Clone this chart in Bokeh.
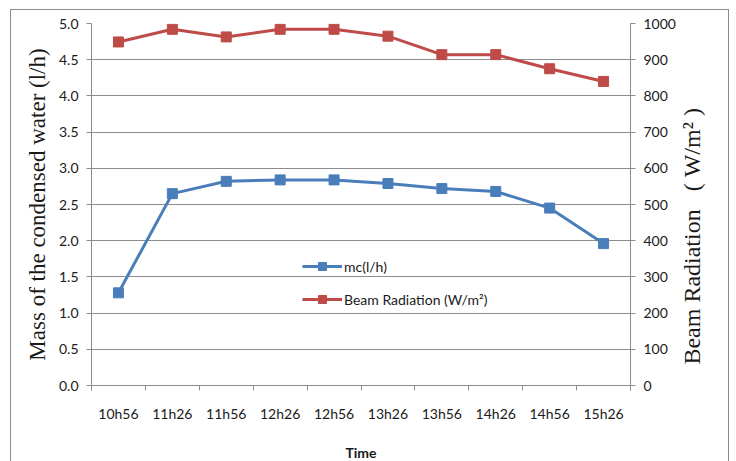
import math
from bokeh.plotting import figure
from bokeh.models import Range1d, LinearAxis, FixedTicker, Legend, LegendItem, ColumnDataSource, Label
from bokeh.embed import file_html
from bokeh.resources import INLINE

times = ["10h56", "11h26", "11h56", "12h26", "12h56", "13h26", "13h56", "14h26", "14h56", "15h26"]
mc = [1.28, 2.65, 2.82, 2.84, 2.84, 2.79, 2.72, 2.68, 2.45, 1.96]
beam = [949, 984, 963, 984, 984, 965, 914, 914, 875, 840]
left_ticks = [0.0, 0.5, 1.0, 1.5, 2.0, 2.5, 3.0, 3.5, 4.0, 4.5, 5.0]
right_ticks = [0, 100, 200, 300, 400, 500, 600, 700, 800, 900, 1000]

BLUE = "#4a7ebb"
RED = "#be4b48"
GRID = "#8c8c8c"
TXT = "#1a1a1a"
NB = "\u00a0"

xs = [i + 0.5 for i in range(len(times))]
src = ColumnDataSource(dict(x=xs, mc=mc, beam=beam))

p = figure(width=719, height=453, output_backend="svg", toolbar_location=None,
           x_range=Range1d(0, len(times)), y_range=Range1d(0, 5),
           min_border_left=80, min_border_right=100, min_border_top=13, min_border_bottom=77)
p.styles = {"border-left": "1px solid #8c8c8c", "border-top": "1px solid #8c8c8c",
            "border-right": "1px solid #8c8c8c", "margin-left": "10px", "margin-top": "9px"}
p.outline_line_color = None
p.background_fill_color = "white"
p.border_fill_color = "white"

p.extra_y_ranges = {"beam": Range1d(0, 1000)}

# x axis: labels at centers, ticks at boundaries
xax = p.xaxis[0]
xax.ticker = FixedTicker(ticks=xs, minor_ticks=list(range(len(times) + 1)))
xax.major_label_overrides = {x: t for x, t in zip(xs, times)}
xax.major_tick_out = 0
xax.major_tick_in = 0
xax.minor_tick_out = 5
xax.minor_tick_in = 0
xax.minor_tick_line_color = GRID
xax.axis_line_color = GRID
xax.major_label_text_font = "Lato"
xax.major_label_text_font_size = "14px"
xax.major_label_text_color = TXT
xax.major_label_standoff = 14
xax.axis_label = "Time"
xax.axis_label_text_font = "Lato"
xax.axis_label_text_font_style = "bold"
xax.axis_label_text_font_size = "14px"
xax.axis_label_text_color = TXT
xax.axis_label_standoff = 19

yax = p.yaxis[0]
yax.ticker = FixedTicker(ticks=left_ticks)
yax.major_label_overrides = {v: f"{v:.1f}" for v in left_ticks}
yax.minor_tick_line_color = None
yax.major_tick_out = 5
yax.major_tick_in = 0
yax.major_tick_line_color = GRID
yax.axis_line_color = GRID
yax.major_label_text_font = "Lato"
yax.major_label_text_font_size = "14px"
yax.major_label_text_color = TXT
yax.major_label_standoff = 8
yax.axis_label = "Mass of the condensed water (l/h)"
yax.axis_label_text_font = "Liberation Serif"
yax.axis_label_text_font_style = "normal"
yax.axis_label_text_font_size = "23px"
yax.axis_label_text_color = TXT
yax.axis_label_standoff = 6

rax = LinearAxis(y_range_name="beam", ticker=FixedTicker(ticks=right_ticks))
rax.minor_tick_line_color = None
rax.major_tick_out = 5
rax.major_tick_in = 0
rax.major_tick_line_color = GRID
rax.axis_line_color = GRID
rax.major_label_text_font = "Lato"
rax.major_label_text_font_size = "14px"
rax.major_label_text_color = TXT
rax.major_label_standoff = 8
p.add_layout(rax, "right")

# right-axis title, reading bottom to top, placed in the right side panel (not clipped)
rtitle = Label(x=len(times) + 1.15, y=2.06, text="Beam Radiation" + NB * 3 + "(" + NB + "W/m²" + NB + ")",
               angle=math.pi / 2, text_align="center", text_baseline="middle",
               text_font="Liberation Serif", text_font_size="24px", text_color=TXT)
p.add_layout(rtitle, "right")

p.xgrid.grid_line_color = None
p.ygrid.ticker = FixedTicker(ticks=left_ticks)
p.ygrid.grid_line_color = GRID
p.ygrid.grid_line_width = 1

l1 = p.line("x", "mc", source=src, line_color=BLUE, line_width=3)
s1 = p.scatter("x", "mc", source=src, marker="square", size=10, fill_color=BLUE, line_color=BLUE)
l2 = p.line("x", "beam", source=src, y_range_name="beam", line_color=RED, line_width=3)
s2 = p.scatter("x", "beam", source=src, y_range_name="beam", marker="square", size=10,
               fill_color=RED, line_color=RED)

legend = Legend(items=[LegendItem(label="mc(l/h)", renderers=[l1, s1]),
                       LegendItem(label="Beam Radiation (W/m²)", renderers=[l2, s2])],
                location=(211, 76), orientation="vertical",
                background_fill_alpha=0, border_line_color=None,
                padding=0, margin=0, spacing=13, label_height=20, glyph_height=20,
                glyph_width=40, label_standoff=2,
                label_text_font="Lato", label_text_font_size="14px", label_text_color=TXT)
p.add_layout(legend, "center")

open("out.html", "w").write(file_html(p, INLINE))
